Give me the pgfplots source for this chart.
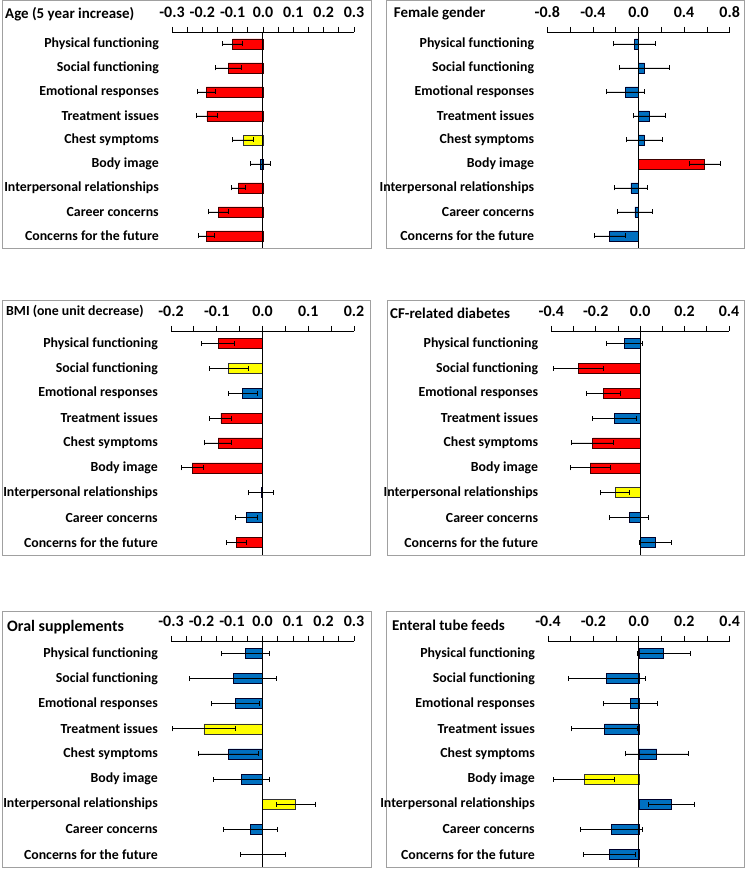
\documentclass[border=0pt]{standalone}
\usepackage{pgfplots}
\pgfplotsset{compat=1.18}
\usepackage{fontspec}
\setmainfont{Carlito}
\definecolor{cred}{RGB}{255,0,0}
\definecolor{cyel}{RGB}{255,255,0}
\definecolor{cblue}{RGB}{0,112,192}
\definecolor{frame}{RGB}{160,160,160}
\pgfplotsset{
 panel/.style={
  scale only axis,
  xbar, bar width=10bp, bar shift=0pt,
  y dir=reverse,
  ymin=0.5, ymax=9.5,
  ytick={1,2,3,4,5,6,7,8,9},
  yticklabels={Physical functioning, Social functioning, Emotional responses, Treatment issues, Chest symptoms, Body image, Interpersonal relationships, Career concerns, Concerns for the future},
  axis x line*=top, axis y line*=left,
  y axis line style={draw=none},
  x axis line style={line width=0.9pt, black},
  tick align=outside,
  major tick length=5bp, minor tick length=5bp,
  every tick/.style={black, line width=0.8pt},
  minor x tick num=1,
  ytick style={draw=none},
  xticklabel style={font=\bfseries\fontsize{16}{18}\selectfont, yshift=6bp,
    /pgf/number format/fixed, /pgf/number format/fixed zerofill,
    /pgf/number format/precision=1, /pgf/number format/assume math mode=true},
  yticklabel style={font=\bfseries\fontsize{13.9}{15}\selectfont, anchor=east, inner sep=0pt, xshift=-8bp},
  error bars/x dir=both, error bars/x explicit,
  error bars/error bar style={line width=0.9pt, black},
  error bars/error mark options={black, line width=0.9pt, mark size=2.5bp, rotate=90},
  clip=false,
 },
 red/.style={fill=cred, draw=black!75!red, line width=0.7pt},
 yel/.style={fill=cyel, draw=black!80, line width=0.7pt},
 blu/.style={fill=cblue, draw=black!60!blue!40!black, line width=0.7pt},
}
\begin{document}
\begin{tikzpicture}
% frames
\draw[frame, line width=0.8pt] (2bp,622bp) rectangle (371bp,869.5bp);
\draw[frame, line width=0.8pt] (386bp,622bp) rectangle (744bp,869.5bp);
\draw[frame, line width=0.8pt] (2bp,315bp) rectangle (370bp,570bp);
\draw[frame, line width=0.8pt] (387bp,315bp) rectangle (744bp,570bp);
\draw[frame, line width=0.8pt] (2bp,3bp) rectangle (371bp,259bp);
\draw[frame, line width=0.8pt] (386bp,3bp) rectangle (744bp,259bp);
% titles
\node[anchor=west, inner sep=0pt, font=\bfseries\fontsize{15}{17}\selectfont] at (5bp,856bp) {Age (5 year increase)};
\node[anchor=west, inner sep=0pt, font=\bfseries\fontsize{15}{17}\selectfont] at (393.7bp,856bp) {Female gender};
\node[anchor=west, inner sep=0pt, font=\bfseries\fontsize{13.9}{15}\selectfont] at (6bp,558.3bp) {BMI (one unit decrease)};
\node[anchor=west, inner sep=0pt, font=\bfseries\fontsize{15}{17}\selectfont] at (390bp,556.7bp) {CF-related diabetes};
\node[anchor=west, inner sep=0pt, font=\bfseries\fontsize{16}{18}\selectfont] at (7bp,243.3bp) {Oral supplements};
\node[anchor=west, inner sep=0pt, font=\bfseries\fontsize{15}{17}\selectfont] at (392bp,245bp) {Enteral tube feeds};

% Panel 1: Age
\begin{axis}[panel, at={(172bp,838bp)}, anchor=north west, width=182bp, height=216bp,
  xmin=-0.3, xmax=0.3, xtick={-0.3,-0.2,-0.1,0,0.1,0.2,0.3}]
\addplot[red] coordinates {(-0.100,1) +- (0.033,0) (-0.114,2) +- (0.043,0) (-0.187,3) +- (0.030,0) (-0.185,4) +- (0.035,0) (-0.081,7) +- (0.024,0) (-0.147,8) +- (0.032,0) (-0.186,9) +- (0.027,0)};
\addplot[yel] coordinates {(-0.066,5) +- (0.034,0)};
\addplot[blu] coordinates {(-0.008,6) +- (0.033,0)};
\draw[black, line width=1pt] (axis cs:0,0.5) -- (axis cs:0,9.5);
\end{axis}

% Panel 2: Female gender
\begin{axis}[panel, at={(547.3bp,838bp)}, anchor=north west, width=182.4bp, height=216bp,
  xmin=-0.8, xmax=0.8, xtick={-0.8,-0.4,0,0.4,0.8}]
\addplot[blu] coordinates {(-0.035,1) +- (0.187,0) (0.053,2) +- (0.221,0) (-0.114,3) +- (0.167,0) (0.096,4) +- (0.142,0) (0.051,5) +- (0.159,0) (-0.067,7) +- (0.146,0) (-0.032,8) +- (0.152,0) (-0.254,9) +- (0.136,0)};
\addplot[red] coordinates {(0.579,6) +- (0.136,0)};
\draw[black, line width=1pt] (axis cs:0,0.5) -- (axis cs:0,9.5);
\end{axis}

% Panel 3: BMI
\begin{axis}[panel, at={(171bp,539bp)}, anchor=north west, width=183bp, height=224bp,
  xmin=-0.2, xmax=0.2, xtick={-0.2,-0.1,0,0.1,0.2}]
\addplot[red] coordinates {(-0.097,1) +- (0.036,0) (-0.091,4) +- (0.024,0) (-0.097,5) +- (0.030,0) (-0.154,6) +- (0.024,0) (-0.057,9) +- (0.022,0)};
\addplot[yel] coordinates {(-0.074,2) +- (0.043,0)};
\addplot[blu] coordinates {(-0.043,3) +- (0.031,0) (-0.003,7) +- (0.027,0) (-0.035,8) +- (0.025,0)};
\draw[black, line width=1pt] (axis cs:0,0.5) -- (axis cs:0,9.5);
\end{axis}

% Panel 4: CF-related diabetes
\begin{axis}[panel, at={(551.3bp,539bp)}, anchor=north west, width=177.7bp, height=224bp,
  xmin=-0.4, xmax=0.4, xtick={-0.4,-0.2,0,0.2,0.4}]
\addplot[blu] coordinates {(-0.071,1) +- (0.081,0) (-0.117,4) +- (0.099,0) (-0.050,8) +- (0.088,0) (0.069,9) +- (0.072,0)};
\addplot[red] coordinates {(-0.279,2) +- (0.113,0) (-0.167,3) +- (0.077,0) (-0.213,5) +- (0.095,0) (-0.225,6) +- (0.090,0)};
\addplot[yel] coordinates {(-0.113,7) +- (0.064,0)};
\draw[black, line width=1pt] (axis cs:0,0.5) -- (axis cs:0,9.5);
\end{axis}

% Panel 5: Oral supplements
\begin{axis}[panel, at={(171bp,229bp)}, anchor=north west, width=183bp, height=226bp,
  xmin=-0.3, xmax=0.3, xtick={-0.3,-0.2,-0.1,0,0.1,0.2,0.3}]
\addplot[blu] coordinates {(-0.057,1) +- (0.079,0) (-0.096,2) +- (0.142,0) (-0.090,3) +- (0.079,0) (-0.111,5) +- (0.098,0) (-0.070,6) +- (0.092,0) (-0.040,8) +- (0.088,0) (0.001,9) +- (0.073,0)};
\addplot[yel] coordinates {(-0.192,4) +- (0.104,0) (0.109,7) +- (0.064,0)};
\draw[black, line width=1pt] (axis cs:0,0.5) -- (axis cs:0,9.5);
\end{axis}

% Panel 6: Enteral tube feeds
\begin{axis}[panel, at={(548bp,229bp)}, anchor=north west, width=181.7bp, height=226bp,
  xmin=-0.4, xmax=0.4, xtick={-0.4,-0.2,0,0.2,0.4}]
\addplot[blu] coordinates {(0.110,1) +- (0.117,0) (-0.142,2) +- (0.170,0) (-0.038,3) +- (0.120,0) (-0.151,4) +- (0.147,0) (0.079,5) +- (0.140,0) (0.144,7) +- (0.102,0) (-0.119,8) +- (0.136,0) (-0.129,9) +- (0.114,0)};
\addplot[yel] coordinates {(-0.241,6) +- (0.133,0)};
\draw[black, line width=1pt] (axis cs:0,0.5) -- (axis cs:0,9.5);
\end{axis}

\pgfresetboundingbox
\useasboundingbox (0,0) rectangle (746bp,870bp);
\end{tikzpicture}
\end{document}
